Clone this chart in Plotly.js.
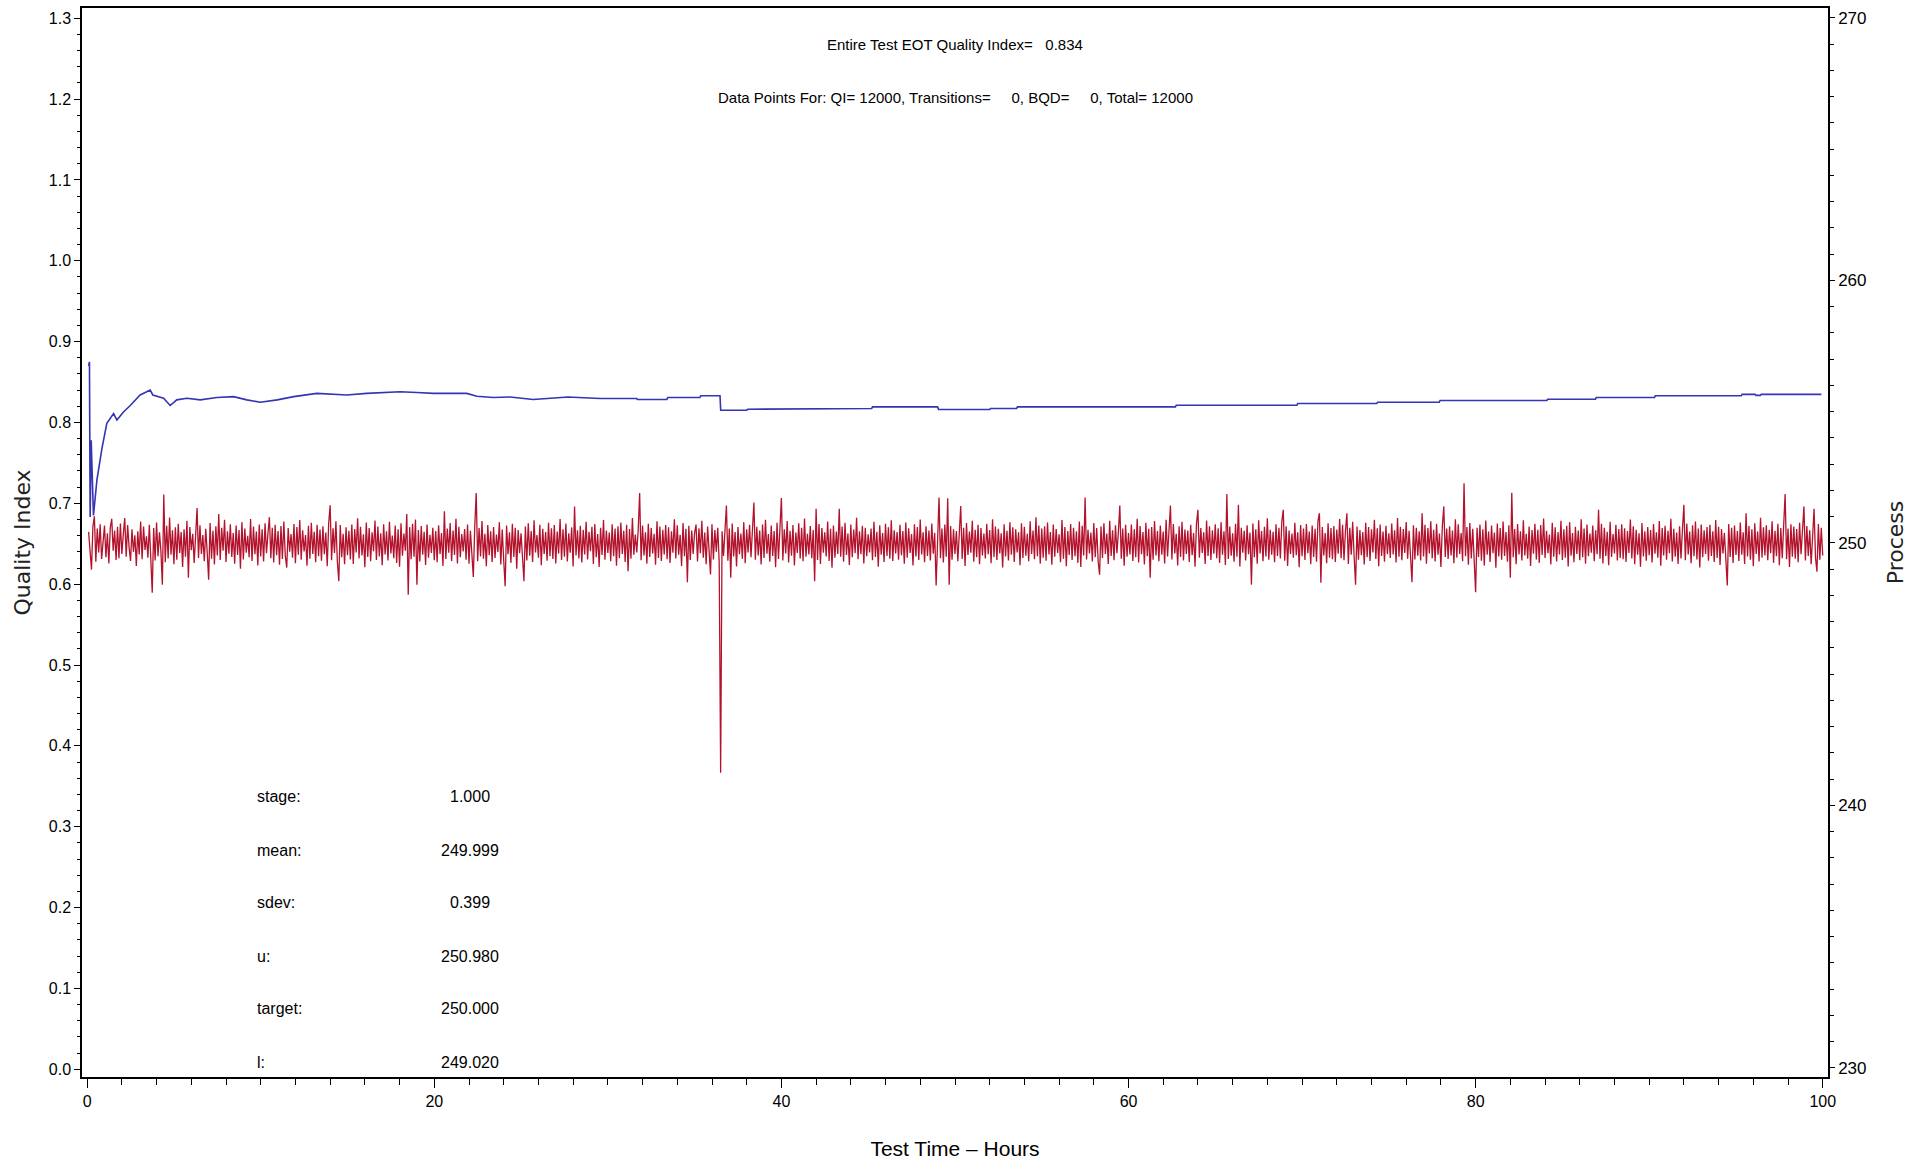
<!DOCTYPE html>
<html>
<head>
<meta charset="utf-8">
<script src="https://cdn.plot.ly/plotly-3.0.1.min.js"></script>
<style>html,body{margin:0;padding:0;background:#fff;}#chart{width:1925px;height:1169px;}</style>
</head>
<body>
<div id="chart"></div>
<script>
// ---- Quality index (running) ----
const qiHours = [0.08,0.13,0.17,0.23,0.36,0.56,0.85,1.13,1.52,1.71,2.09,2.48,3.05,3.63,3.78,4.40,4.78,5.16,5.74,6.51,7.47,8.43,9.20,9.97,10.95,11.90,13.23,14.20,14.96,16.10,18.03,18.99,19.95,21.87,22.45,23.40,24.37,25.70,27.70,29.55,31.66,31.70,33.40,33.45,35.30,35.35,36.46,36.50,38.00,38.05,39.60,39.65,45.20,45.25,49.00,49.05,52.00,52.05,53.55,53.60,62.70,62.75,69.70,69.75,74.30,74.35,77.90,77.95,84.10,84.15,86.90,86.95,90.30,90.35,95.30,95.35,96.10,96.15,96.40,96.45,99.92];
const qiValues = [0.870,0.875,0.683,0.778,0.685,0.729,0.768,0.799,0.811,0.803,0.813,0.821,0.834,0.840,0.834,0.830,0.821,0.828,0.830,0.828,0.831,0.832,0.828,0.825,0.828,0.832,0.836,0.835,0.834,0.836,0.838,0.837,0.836,0.836,0.8325,0.831,0.8316,0.8284,0.8316,0.8297,0.8297,0.8284,0.8284,0.831,0.831,0.833,0.833,0.8152,0.8152,0.8164,0.8164,0.8173,0.8173,0.8193,0.8193,0.816,0.816,0.8173,0.8173,0.8193,0.8193,0.8214,0.8214,0.8235,0.8235,0.8251,0.8251,0.8272,0.8272,0.8288,0.8288,0.8309,0.8309,0.833,0.833,0.8348,0.8348,0.8335,0.8335,0.8348,0.8348];

// ---- Process values (estimated trace, 1200 samples across the test) ----
const processStartHour = 0.08;
const processHourStep = 1/12;
const processValues = [
250.42,249.51,248.98,250.63,251.01,249.28,250.55,249.64,250.71,249.39,250.18,250.66,249.45,250.37,249.22,250.58,250.92,249.70,250.47,249.35,
250.61,249.42,250.74,249.58,250.33,250.95,249.47,250.68,249.83,249.31,250.52,249.66,250.29,249.12,250.44,249.56,250.81,249.38,250.62,249.73,
250.25,249.44,250.69,249.60,248.10,250.57,249.33,250.78,249.49,250.40,249.68,248.41,251.84,249.26,250.65,249.41,250.97,249.55,250.48,249.19,
250.59,249.36,250.73,249.62,250.41,249.08,250.52,249.47,250.84,248.67,250.60,249.72,250.35,249.24,250.50,251.33,249.43,250.67,249.58,250.30,
249.30,250.54,249.65,248.60,250.76,249.40,250.46,249.18,250.63,249.52,251.10,249.35,250.58,249.70,250.88,249.27,250.44,249.59,250.71,249.46,
250.38,249.21,250.66,249.54,250.49,249.02,250.79,249.37,250.55,249.63,250.27,249.45,250.91,249.31,250.62,249.57,250.43,249.14,250.70,249.48,
250.52,249.29,250.75,249.61,250.36,250.98,249.42,250.58,249.25,250.69,249.53,250.45,249.17,250.64,249.39,250.81,249.50,249.06,250.57,249.66,
250.34,249.44,250.72,249.23,250.60,249.55,250.87,249.36,250.48,249.67,250.30,249.13,250.65,249.40,250.77,249.58,250.42,249.26,250.69,249.49,
250.51,249.32,250.63,249.57,250.39,249.11,250.74,251.43,249.34,250.56,249.62,250.82,249.28,248.54,250.68,249.45,250.35,249.19,250.59,249.53,
250.46,249.37,250.70,249.20,250.53,249.64,250.94,249.41,250.61,249.52,250.33,249.07,250.78,249.46,250.57,249.30,250.40,249.68,250.85,249.35,
250.62,249.48,250.37,249.15,250.71,249.56,250.44,249.33,250.80,249.60,250.28,249.42,250.66,249.24,250.52,249.09,250.75,249.51,250.36,249.70,
251.10,248.03,250.60,249.38,250.73,249.47,250.89,248.41,250.49,249.29,250.64,249.55,250.42,249.16,250.70,249.44,250.31,249.62,250.58,249.34,
250.45,249.26,250.67,249.58,250.38,249.12,251.20,249.39,250.55,249.63,250.76,249.31,250.47,249.54,250.92,249.22,250.61,249.45,250.34,249.67,
250.53,249.36,250.70,249.21,250.46,249.59,248.70,250.64,251.90,249.30,250.57,249.48,250.83,249.40,250.35,249.11,250.68,249.53,250.44,249.27,
250.60,249.43,250.32,249.65,250.79,249.18,250.51,249.35,248.35,250.66,249.57,250.40,249.24,250.73,249.46,250.58,249.02,250.49,249.61,250.37,
249.40,248.54,250.62,249.33,250.75,249.51,250.45,249.27,250.86,249.64,250.30,249.44,250.69,249.15,250.54,249.58,250.41,249.32,250.77,249.49,
250.56,249.39,250.68,249.22,250.43,249.60,250.91,249.35,250.52,249.47,250.74,249.29,250.37,249.63,250.59,249.10,251.39,249.52,250.48,249.41,
250.65,249.25,250.50,249.56,250.80,249.37,250.42,249.68,250.61,249.20,250.72,249.45,250.34,249.08,250.58,249.54,250.87,249.36,250.47,249.62,
250.39,249.30,250.71,249.49,250.55,249.13,250.63,249.42,250.78,249.58,250.46,249.27,250.69,248.92,250.53,249.40,250.95,249.55,250.32,249.64,
250.48,251.90,249.34,250.66,249.52,250.40,249.21,250.73,249.46,250.57,249.60,250.35,249.17,250.82,249.43,250.62,249.31,250.50,249.56,250.68,
249.38,250.59,249.24,250.44,249.63,250.90,249.41,250.67,249.55,250.31,249.12,250.76,249.49,250.54,248.50,250.65,249.35,250.47,249.58,250.38,
250.70,249.29,250.56,249.61,250.84,249.44,250.39,249.19,250.62,249.53,248.80,250.71,249.37,250.49,249.66,250.58,249.26,241.25,250.44,249.50,
250.63,251.42,249.32,250.55,248.67,250.74,249.48,250.41,249.10,250.60,249.57,250.36,249.40,250.79,249.23,250.52,249.64,250.69,249.45,250.33,
251.54,249.36,250.61,249.52,250.47,249.18,250.70,249.43,250.88,249.59,250.34,249.28,250.66,249.50,250.45,249.07,250.77,249.39,250.56,251.71,
249.33,250.52,249.60,250.83,249.25,250.46,249.51,250.68,249.14,250.39,249.62,250.75,249.41,250.58,249.30,250.93,249.47,250.35,249.56,250.64,
249.42,250.49,248.54,251.30,249.35,250.72,249.20,250.57,249.63,250.40,249.48,250.81,249.31,250.54,249.05,250.66,249.44,250.43,249.58,251.30,
249.47,250.62,249.28,250.77,249.54,250.36,249.16,250.70,249.45,250.51,249.61,250.96,249.38,250.44,249.57,250.65,249.22,250.58,249.49,250.33,
249.64,250.55,249.34,250.80,249.46,250.42,249.09,250.67,249.55,250.38,249.27,250.73,249.50,250.59,249.40,250.86,249.31,250.48,249.60,250.41,
249.36,250.69,249.53,250.45,249.21,250.78,249.44,250.56,249.62,250.34,249.14,250.71,249.48,250.60,249.35,250.89,249.56,250.40,249.26,250.63,
249.50,250.47,249.33,250.74,249.59,250.38,248.38,250.61,251.73,249.42,250.55,249.25,250.70,249.47,251.70,248.41,250.64,249.36,250.52,249.58,
250.45,249.30,250.67,251.40,249.39,250.58,249.12,250.76,249.54,250.43,249.63,250.84,249.28,250.50,249.45,250.69,249.19,250.57,249.52,250.36,
249.41,250.73,249.57,250.49,249.23,250.90,249.46,250.62,249.35,250.54,249.60,250.37,249.06,250.71,249.48,250.46,249.33,250.79,249.55,250.59,
249.27,250.52,249.64,250.40,249.15,250.75,249.43,250.61,249.51,250.35,249.30,250.82,249.58,250.47,249.38,250.98,249.49,250.66,249.21,250.55,
249.44,250.63,249.32,250.78,249.56,250.41,249.17,250.70,249.47,250.53,249.62,250.33,249.26,250.87,249.40,250.60,249.11,250.45,249.54,250.72,
249.35,250.58,249.49,250.44,249.24,250.81,249.08,250.65,249.52,251.73,249.37,250.50,249.60,250.39,249.29,250.76,249.45,250.57,249.31,248.79,
250.62,249.43,250.75,249.58,250.36,249.20,250.84,249.50,250.48,249.34,250.67,249.61,250.42,251.42,249.40,250.55,249.13,250.69,249.47,250.38,
249.56,250.70,249.31,250.52,249.45,250.92,249.25,250.64,249.57,250.41,249.18,250.77,249.49,250.54,248.67,250.60,249.36,250.83,249.52,250.45,
249.30,250.66,249.55,250.43,249.22,250.88,249.48,250.59,251.42,249.37,250.72,249.60,250.35,249.14,250.63,249.46,250.80,249.33,250.51,249.58,
250.47,249.27,250.69,249.53,250.38,249.09,250.74,251.26,249.44,250.57,249.62,250.40,249.20,250.85,249.50,250.63,249.35,250.48,249.59,250.71,
249.42,250.56,249.24,250.79,249.55,250.44,249.16,251.86,249.39,250.62,249.51,250.37,249.28,250.73,249.47,251.45,249.10,250.58,249.63,250.46,
249.33,250.67,249.57,250.39,248.41,250.74,249.45,250.52,249.21,250.86,249.60,250.45,249.30,250.61,249.48,250.94,249.36,250.50,249.55,250.42,
249.26,250.71,249.50,250.58,249.41,250.80,251.26,249.32,250.63,249.12,250.47,249.58,250.36,249.44,250.77,249.53,250.40,249.07,250.68,249.49,
250.55,249.35,250.72,249.61,250.43,249.19,250.66,249.46,250.54,249.28,250.83,251.13,248.48,250.60,249.52,250.38,249.23,250.75,249.44,250.57,
249.38,250.64,249.27,250.51,249.59,250.91,249.42,250.69,249.34,250.46,251.13,249.20,250.58,249.55,250.80,249.47,248.41,250.62,249.36,250.49,
249.53,250.41,249.18,250.77,249.45,250.60,249.31,250.52,249.64,250.88,249.39,250.56,249.11,250.70,249.50,250.43,249.28,250.65,249.57,250.37,
249.43,250.74,249.56,250.48,249.25,250.95,249.47,250.61,249.34,250.53,249.62,250.79,249.40,250.46,249.15,248.50,250.67,249.37,250.58,249.51,
250.44,249.33,251.13,249.48,250.69,249.21,250.57,249.60,250.82,249.42,250.50,249.29,250.73,249.55,250.36,249.08,250.64,251.39,249.46,250.55,
249.39,250.63,249.52,250.47,249.23,250.90,249.44,250.71,249.58,250.38,249.30,252.27,249.49,250.60,249.17,250.76,249.41,250.54,249.35,248.12,
250.58,249.46,250.70,249.32,250.52,249.14,250.85,249.55,250.43,249.27,250.66,249.61,250.39,249.05,250.74,249.48,250.57,249.36,250.81,249.50,
250.41,249.28,250.67,248.67,251.91,249.45,250.53,249.19,250.72,249.56,250.44,249.33,250.86,249.52,250.35,249.40,250.62,249.12,250.49,249.59,
250.73,249.37,250.50,249.24,250.68,249.54,250.93,249.43,250.46,249.61,250.32,249.18,250.77,249.47,250.59,249.29,250.41,249.56,250.84,249.35,
250.52,249.44,250.65,249.10,250.79,249.51,250.38,249.26,250.61,249.58,250.47,249.34,250.90,249.45,250.55,249.21,250.70,249.49,250.36,249.63,
250.66,249.30,250.48,249.57,251.26,249.40,250.73,249.22,250.58,249.50,250.42,249.15,250.80,249.46,250.34,249.60,250.69,249.33,250.53,249.43,
250.71,249.38,250.56,249.27,250.45,249.62,250.89,249.41,250.63,249.19,250.50,249.55,250.37,249.09,250.76,249.48,250.44,249.32,250.60,249.53,
250.49,249.25,250.72,249.59,250.40,249.44,250.83,249.13,250.57,249.52,250.65,249.36,250.46,249.61,250.92,249.29,250.54,249.47,250.39,249.20,
250.63,249.41,250.51,251.45,249.34,250.74,249.56,250.43,249.23,250.67,249.49,250.81,249.37,250.55,249.06,250.70,249.45,250.48,249.58,250.60,
249.32,250.69,249.50,250.44,249.27,250.87,249.43,250.61,249.16,250.53,249.60,250.38,249.39,248.38,250.72,249.46,250.58,249.24,250.66,249.54,
250.45,249.31,250.78,249.55,250.40,249.20,251.13,249.48,250.64,249.36,250.52,249.11,250.75,249.58,250.43,249.29,250.96,249.44,250.59,249.52,
250.67,249.34,250.50,249.61,250.82,249.24,250.46,249.49,250.73,249.15,250.57,249.42,250.68,251.86,249.38,250.55,249.08,250.71,249.47,250.62,
249.40,250.53,249.26,250.77,249.57,250.41,251.39,249.33,250.64,249.50,250.48,249.19,250.60,251.30,249.44,248.90,250.72,249.36,250.58,249.52
];

// ---- Text ----
const headerLines = ["Entire Test EOT Quality Index=\u00a0\u00a0\u00a00.834",
  "Data Points For: QI= 12000, Transitions=\u00a0\u00a0\u00a0\u00a0\u00a00, BQD=\u00a0\u00a0\u00a0\u00a0\u00a00, Total= 12000"];
const statLabels = ["stage:", "mean:", "sdev:", "u:", "target:", "l:"];
const statValues = ["1.000", "249.999", "0.399", "250.980", "250.000", "249.020"];
const xTickVals = [0, 20, 40, 60, 80, 100];
const y2TickVals = [230, 240, 250, 260, 270];

const SANS = "Liberation Sans, Arial, sans-serif";
const PLOT_L = 82, PLOT_R = 1828, PLOT_T = 8, PLOT_B = 1077;
const px2x = px => (px - PLOT_L) / (PLOT_R - PLOT_L);
const py2y = py => (PLOT_B - py) / (PLOT_B - PLOT_T);

const traces = [
  { type: "scatter", mode: "lines", x0: processStartHour, dx: processHourStep, y: processValues,
    xaxis: "x", yaxis: "y2", line: { color: "#b3122c", width: 1.3 }, name: "Process", hoverinfo: "x+y" },
  { type: "scatter", mode: "lines", x: qiHours, y: qiValues, xaxis: "x", yaxis: "y",
    line: { color: "#3434b4", width: 1.6 }, name: "Quality Index", hoverinfo: "x+y" }
];

const annotations = [];
const headerY = [45, 98];
headerLines.forEach((t, i) => annotations.push({
  text: t, xref: "paper", yref: "paper", x: 0.5, y: py2y(headerY[i]),
  xanchor: "center", yanchor: "middle", showarrow: false,
  font: { family: SANS, size: 15, color: "#000" }
}));
const statY = [797, 850, 902, 956, 1008, 1062];
statLabels.forEach((t, i) => {
  annotations.push({ text: t, xref: "paper", yref: "paper", x: px2x(255), y: py2y(statY[i]),
    xanchor: "left", yanchor: "middle", showarrow: false,
    font: { family: SANS, size: 16, color: "#000" } });
  annotations.push({ text: statValues[i], xref: "paper", yref: "paper", x: px2x(470), y: py2y(statY[i]),
    xanchor: "center", yanchor: "middle", showarrow: false,
    font: { family: SANS, size: 16, color: "#000" } });
});

const layout = {
  width: 1925, height: 1169,
  margin: { l: PLOT_L, r: 1925 - PLOT_R, t: PLOT_T, b: 1169 - PLOT_B, pad: 0 },
  paper_bgcolor: "#fff", plot_bgcolor: "#fff",
  showlegend: false,
  xaxis: {
    range: [-0.3, 100.3], tickmode: "array", tickvals: xTickVals,
    ticks: "outside", ticklen: 9, tickwidth: 1.2, tickcolor: "#000",
    minor: { dtick: 2, tick0: 0, ticks: "outside", ticklen: 6, tickwidth: 1, tickcolor: "#000", showgrid: false },
    showline: true, linecolor: "#000", linewidth: 2, mirror: true,
    showgrid: false, zeroline: false,
    tickfont: { family: SANS, size: 16, color: "#000" },
    title: { text: "Test Time \u2013 Hours", font: { family: SANS, size: 21, color: "#000" }, standoff: 32 }
  },
  yaxis: {
    range: [-0.0096, 1.3127], dtick: 0.1, tick0: 0, tickformat: ".1f",
    ticks: "outside", ticklen: 6, tickwidth: 1.2, tickcolor: "#000",
    minor: { dtick: 0.02, tick0: 0, ticks: "outside", ticklen: 3, tickwidth: 1, tickcolor: "#000", showgrid: false },
    showline: true, linecolor: "#000", linewidth: 1.5,
    showgrid: false, zeroline: false,
    tickfont: { family: SANS, size: 16, color: "#000" },
    title: { text: "Quality Index", font: { family: "DejaVu Sans", size: 22, color: "#222" }, standoff: 12 }
  },
  yaxis2: {
    overlaying: "y", side: "right", anchor: "x",
    range: [229.657, 270.373], tickmode: "array", tickvals: y2TickVals,
    ticks: "outside", ticklen: 5, tickwidth: 1.2, tickcolor: "#000",
    minor: { dtick: 1, tick0: 230, ticks: "outside", ticklen: 4, tickwidth: 1, tickcolor: "#000", showgrid: false },
    showline: true, linecolor: "#000", linewidth: 1.5,
    showgrid: false, zeroline: false,
    tickfont: { family: SANS, size: 17, color: "#000" },
    title: { text: "Process", font: { family: "DejaVu Sans", size: 22, color: "#222" }, standoff: 22 }
  },
  annotations: annotations
};

Plotly.newPlot("chart", traces, layout, { displayModeBar: false, responsive: false });
</script>
</body>
</html>
